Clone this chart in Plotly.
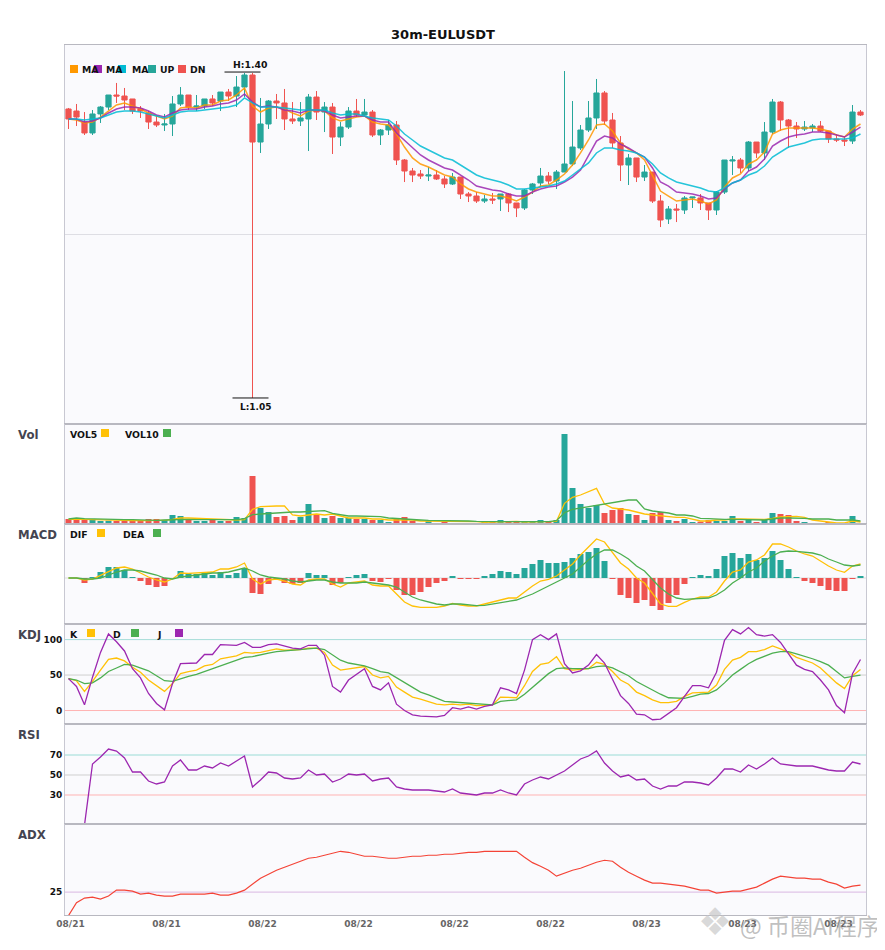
import plotly.graph_objects as go
from plotly.subplots import make_subplots

tick_idx = [0, 12, 24, 36, 48, 60, 72, 84, 96]
tick_labels = ["08/21", "08/21", "08/22", "08/22", "08/22", "08/22", "08/23", "08/23", "08/23"]

opens = [1.3611,1.3589,1.3470,1.3352,1.3557,1.3632,1.3762,1.3751,1.3719,1.3611,1.3568,1.3470,1.3438,1.3449,1.3665,1.3762,1.3632,1.3643,1.3719,1.3697,
         1.3794,1.3751,1.3848,1.3978,1.3254,1.3449,1.3697,1.3676,1.3503,1.3481,1.3503,1.3740,1.3578,1.3632,1.3308,1.3416,1.3589,1.3546,1.3578,1.3330,
         1.3384,1.3438,1.3060,1.2941,1.2909,1.2887,1.2898,1.2855,1.2801,1.2876,1.2693,1.2671,1.2617,1.2639,1.2639,1.2693,1.2596,1.2542,1.2736,1.2812,
         1.2887,1.2833,1.2930,1.3017,1.3190,1.3384,1.3514,1.3784,1.3492,1.3244,1.3006,1.3082,1.2876,1.2930,1.2617,1.2423,1.2531,1.2520,1.2650,1.2650,
         1.2596,1.2520,1.2714,1.3049,1.3060,1.2974,1.3254,1.3136,1.3362,1.3686,1.3492,1.3427,1.3395,1.3406,1.3427,1.3373,1.3287,1.3276,1.3265,1.3578]
highs = [1.3622,1.3665,1.3578,1.3600,1.3643,1.3762,1.3892,1.3838,1.3719,1.3643,1.3589,1.3546,1.3557,1.3751,1.3848,1.3762,1.3762,1.3719,1.3762,1.3794,
         1.3827,1.3967,1.4000,1.4000,1.3730,1.3708,1.3773,1.3827,1.3686,1.3686,1.3773,1.3805,1.3686,1.3676,1.3470,1.3632,1.3719,1.3719,1.3600,1.3395,
         1.3492,1.3481,1.3071,1.2974,1.2952,1.2984,1.2952,1.2887,1.2920,1.2876,1.2714,1.2714,1.2682,1.2704,1.2693,1.2704,1.2596,1.2747,1.2812,1.2974,
         1.2930,1.2952,1.4021,1.3697,1.3438,1.3697,1.3935,1.3805,1.3568,1.3319,1.3125,1.3082,1.3006,1.2930,1.2682,1.2563,1.2585,1.2671,1.2660,1.2693,
         1.2596,1.2725,1.3060,1.3103,1.3082,1.3265,1.3254,1.3470,1.3719,1.3697,1.3503,1.3470,1.3481,1.3449,1.3481,1.3373,1.3341,1.3319,1.3654,1.3600]
lows = [1.3395,1.3427,1.3330,1.3330,1.3460,1.3600,1.3676,1.3600,1.3557,1.3514,1.3395,1.3416,1.3373,1.3319,1.3643,1.3600,1.3589,1.3611,1.3643,1.3589,
        1.3697,1.3632,1.3740,1.0490,1.3136,1.3395,1.3503,1.3384,1.3449,1.3427,1.3157,1.3492,1.3362,1.3125,1.3211,1.3395,1.3524,1.3524,1.3308,1.3222,
        1.3330,1.3006,1.2822,1.2822,1.2855,1.2833,1.2844,1.2758,1.2790,1.2639,1.2606,1.2596,1.2596,1.2585,1.2509,1.2498,1.2444,1.2520,1.2693,1.2768,
        1.2801,1.2747,1.2930,1.2995,1.3168,1.3362,1.3395,1.3438,1.3190,1.2833,1.2790,1.2822,1.2833,1.2596,1.2336,1.2369,1.2390,1.2477,1.2542,1.2520,
        1.2412,1.2466,1.2693,1.2898,1.2920,1.2941,1.3082,1.3060,1.3341,1.3373,1.3190,1.3298,1.3373,1.3362,1.3362,1.3244,1.3254,1.3211,1.3233,1.3535]
closes = [1.3503,1.3524,1.3352,1.3557,1.3632,1.3762,1.3751,1.3708,1.3589,1.3589,1.3470,1.3438,1.3449,1.3665,1.3762,1.3632,1.3643,1.3719,1.3676,1.3794,
          1.3751,1.3848,1.3978,1.3254,1.3449,1.3697,1.3676,1.3503,1.3481,1.3514,1.3740,1.3578,1.3632,1.3308,1.3416,1.3589,1.3546,1.3578,1.3330,1.3384,
          1.3438,1.3060,1.2941,1.2898,1.2887,1.2898,1.2855,1.2801,1.2876,1.2693,1.2671,1.2617,1.2639,1.2628,1.2693,1.2596,1.2542,1.2736,1.2801,1.2887,
          1.2833,1.2930,1.3017,1.3200,1.3384,1.3514,1.3784,1.3481,1.3244,1.3006,1.3082,1.2876,1.2930,1.2617,1.2412,1.2531,1.2520,1.2650,1.2660,1.2596,
          1.2520,1.2714,1.3060,1.3060,1.2974,1.3254,1.3136,1.3362,1.3686,1.3492,1.3427,1.3395,1.3416,1.3427,1.3373,1.3287,1.3276,1.3265,1.3578,1.3546]

ma5 = [1.3503,1.3492,1.3460,1.3470,1.3524,1.3589,1.3654,1.3676,1.3643,1.3611,1.3568,1.3535,1.3503,1.3535,1.3622,1.3632,1.3622,1.3654,1.3654,1.3697,
       1.3708,1.3762,1.3838,1.3643,1.3578,1.3622,1.3632,1.3611,1.3568,1.3535,1.3589,1.3600,1.3589,1.3514,1.3481,1.3503,1.3524,1.3535,1.3470,1.3449,
       1.3438,1.3341,1.3200,1.3082,1.3017,1.2984,1.2941,1.2898,1.2876,1.2801,1.2747,1.2714,1.2693,1.2671,1.2671,1.2650,1.2617,1.2660,1.2714,1.2779,
       1.2790,1.2844,1.2909,1.3006,1.3136,1.3276,1.3438,1.3449,1.3373,1.3244,1.3179,1.3136,1.3060,1.2898,1.2725,1.2671,1.2617,1.2628,1.2639,1.2617,
       1.2585,1.2628,1.2768,1.2866,1.2909,1.3017,1.3060,1.3146,1.3341,1.3384,1.3406,1.3406,1.3406,1.3406,1.3395,1.3373,1.3330,1.3308,1.3395,1.3449]
ma10 = [1.3503,1.3503,1.3470,1.3481,1.3514,1.3568,1.3611,1.3632,1.3632,1.3622,1.3589,1.3546,1.3524,1.3568,1.3600,1.3611,1.3611,1.3632,1.3643,1.3665,
        1.3676,1.3708,1.3773,1.3686,1.3632,1.3643,1.3632,1.3600,1.3589,1.3568,1.3600,1.3600,1.3589,1.3546,1.3514,1.3524,1.3535,1.3535,1.3492,1.3470,
        1.3470,1.3352,1.3276,1.3190,1.3114,1.3060,1.3017,1.2974,1.2952,1.2898,1.2844,1.2779,1.2758,1.2736,1.2725,1.2693,1.2671,1.2671,1.2714,1.2747,
        1.2768,1.2779,1.2822,1.2876,1.2952,1.3114,1.3265,1.3319,1.3298,1.3233,1.3190,1.3136,1.3092,1.2974,1.2822,1.2779,1.2714,1.2704,1.2693,1.2671,
        1.2639,1.2650,1.2747,1.2812,1.2844,1.2941,1.2984,1.3071,1.3211,1.3265,1.3308,1.3330,1.3341,1.3362,1.3362,1.3352,1.3330,1.3308,1.3362,1.3416]
ma20 = [1.3503,1.3503,1.3492,1.3503,1.3514,1.3546,1.3578,1.3589,1.3589,1.3578,1.3557,1.3535,1.3514,1.3546,1.3578,1.3589,1.3589,1.3600,1.3611,1.3622,
        1.3632,1.3654,1.3730,1.3676,1.3632,1.3632,1.3632,1.3622,1.3611,1.3600,1.3600,1.3600,1.3600,1.3568,1.3546,1.3557,1.3557,1.3535,1.3514,1.3503,
        1.3492,1.3427,1.3341,1.3276,1.3211,1.3168,1.3125,1.3082,1.3060,1.3006,1.2952,1.2898,1.2866,1.2844,1.2822,1.2790,1.2747,1.2747,1.2758,1.2768,
        1.2779,1.2801,1.2833,1.2898,1.2963,1.3028,1.3136,1.3190,1.3190,1.3168,1.3157,1.3136,1.3092,1.3017,1.2920,1.2866,1.2822,1.2801,1.2779,1.2758,
        1.2725,1.2714,1.2758,1.2812,1.2844,1.2898,1.2930,1.2995,1.3092,1.3146,1.3200,1.3222,1.3244,1.3276,1.3287,1.3287,1.3287,1.3287,1.3298,1.3341]

volume = [15,15,14,14,9,10,9,9,9,9,15,15,12,27,24,15,9,9,15,9,
          9,21,18,144,48,36,21,24,12,21,60,27,18,24,18,18,15,15,12,12,
          6,18,21,9,3,9,3,6,3,3,3,3,6,9,12,5,5,6,6,12,
          4,12,270,108,60,48,57,33,42,48,30,27,12,33,36,12,9,15,6,7,
          12,9,9,24,9,12,6,15,33,30,27,9,6,3,3,5,3,2,24,2]
vol5 = [14,15,14,13,13,13,12,11,10,9,10,11,11,14,18,18,17,17,15,13,
        13,12,13,44,52,54,54,54,27,24,27,30,27,30,24,18,18,18,15,15,
        12,12,12,12,9,9,7,7,7,7,7,7,5,6,8,8,8,6,6,6,
        6,8,62,80,87,96,107,60,48,45,42,36,30,27,24,21,20,20,14,9,
        9,12,12,15,15,15,14,14,17,21,22,23,20,12,9,6,3,3,9,6]
vol10 = [15,18,16,15,14,14,13,13,13,12,11,11,12,13,14,14,13,13,13,13,
         13,13,16,28,30,32,34,36,36,36,38,40,40,32,27,24,24,24,24,22,
         18,16,14,13,12,11,11,10,9,9,9,8,7,7,7,7,7,7,7,7,
         7,10,34,44,48,54,57,60,66,69,72,72,45,39,36,33,27,27,24,17,
         16,14,14,14,14,12,12,12,15,18,18,18,17,15,15,15,12,12,12,9]

macd_hist = [0,0,-15,3,18,33,33,24,3,-9,-21,-27,-24,0,21,15,12,18,9,18,
             9,15,30,-45,-48,-18,-2,-15,-18,-15,15,9,9,-21,-15,3,9,12,-9,-12,
             -3,-36,-51,-51,-42,-27,-15,-9,6,-3,-3,-3,6,12,21,18,12,30,42,54,
             45,45,48,60,72,78,90,51,-3,-51,-60,-75,-66,-84,-96,-75,-51,-18,3,9,
             6,27,66,75,60,72,54,60,81,54,27,3,-9,-15,-24,-36,-39,-39,-3,6]
dif = [0,0,-6,-3,8,18,30,33,27,15,3,-6,-12,-3,15,14,15,18,18,27,
       27,33,45,-3,-18,-6,-3,-9,-18,-21,-6,-3,-3,-18,-27,-15,-12,-9,-21,-24,
       -24,-48,-72,-84,-88,-88,-88,-84,-76,-81,-84,-84,-78,-72,-64,-60,-60,-42,-24,-9,
       -4,6,24,42,69,94,117,108,78,45,27,0,-15,-48,-78,-85,-85,-73,-63,-57,
       -57,-42,-9,18,24,48,54,69,102,102,93,81,72,66,51,36,24,17,36,42]
dea = [0,0,-3,-3,0,9,18,24,24,21,15,9,0,-3,3,6,9,12,15,15,
       18,24,30,21,9,3,0,-3,-9,-12,-9,-6,-6,-12,-15,-15,-15,-12,-15,-18,
       -21,-27,-42,-57,-66,-72,-78,-81,-78,-78,-81,-83,-82,-78,-72,-69,-66,-57,-48,-36,
       -24,-12,0,12,33,54,72,84,84,72,57,36,21,-6,-30,-48,-60,-64,-63,-60,
       -60,-51,-36,-15,0,18,30,51,66,78,81,80,78,75,69,57,48,39,36,39]

kdj_k = [45,42,27,41,57,72,74,70,61,54,43,35,27,38,52,55,57,63,65,73,
         75,77,82,81,82,84,87,85,85,86,88,88,82,64,57,59,61,62,50,46,
         48,33,26,19,16,12,9,8,9,8,9,7,8,8,19,19,18,35,55,65,
         67,76,59,57,58,59,68,65,55,43,37,26,21,15,11,11,13,20,25,26,
         26,36,58,71,75,83,83,86,91,87,82,75,71,67,60,50,39,31,49,58]
kdj_d = [45,43,38,39,46,55,60,65,64,60,56,49,42,41,45,48,51,55,59,64,
         68,71,75,76,79,81,83,84,85,85,86,88,86,78,71,67,65,63,59,55,
         53,46,39,33,26,22,18,13,12,11,11,10,9,8,13,14,15,23,33,43,
         52,59,60,59,59,59,62,63,60,55,49,41,35,28,23,18,17,17,20,23,
         24,29,39,50,58,66,72,76,81,83,83,80,77,73,69,64,55,46,48,50]
kdj_j = [45,34,8,47,82,108,97,84,59,46,24,10,1,38,66,67,67,79,79,93,
         93,92,96,89,89,93,94,91,88,87,92,92,78,34,26,43,51,59,34,29,
         39,9,0,-6,-8,-9,-9,-7,4,2,5,2,6,8,32,29,24,57,100,107,
         100,108,66,53,56,64,79,67,45,21,10,-5,-6,-13,-12,-4,4,20,35,35,
         32,54,99,114,108,117,107,105,107,96,80,64,58,55,43,29,7,-3,52,72]

rsi = [0,0,0,61,68,76,74,67,53,53,44,41,43,59,65,55,55,59,57,62,
       59,64,69,38,45,53,52,47,46,47,55,50,51,43,46,51,50,51,44,46,
       47,38,36,35,35,35,34,33,36,32,31,30,32,32,35,32,30,41,45,48,
       46,50,54,60,66,69,74,62,54,48,50,45,46,39,36,39,39,43,43,42,
       40,47,56,56,53,60,56,61,67,61,60,59,59,59,57,55,54,54,63,61]

adx = [13.2,19.7,22,22.5,21.5,23,26,26,25.5,24,24.5,23.5,23,23,24,24,24,24,24.5,23.5,
       23.5,24.5,26,29,32,34,36,37.5,39,40.5,42,42.5,43.5,44.5,45.5,45,44,43,43,42.5,
       42,42,42.5,43,43,43.5,43.5,44,44,44.5,45,45,45.5,45.5,45.5,45.5,45.5,42.5,39.8,38,
       36,33,34.5,36,37,38.5,40,41,40.5,37.5,35,33,31,29.5,29.5,29,28.5,28,27,26,
       26,24.5,25,25.5,25.5,26.5,27.5,29.5,31.5,33,32.5,32,32,31.5,31.5,30,29,27,28,28.5]

UP = "#26a69a"
DN = "#ef5350"
ORANGE = "#ff9800"
PURPLE = "#9c27b0"
CYAN = "#00bcd4"
YELLOW = "#ffc107"
GREEN = "#4caf50"
FONT = "DejaVu Sans"

x = list(range(len(closes)))
hi_idx = 23
lo_idx = 23

# the page body keeps its 8px margin, so the figure is 8px smaller on each side
OFFSET = 8
L, R, T, B = 65, 866, 45, 915


def px(v):
    return (v - L) / (R - L)


def py(v):
    return (B - v) / (B - T)


fig = make_subplots(rows=6, cols=1, shared_xaxes=True, vertical_spacing=0,
                    row_heights=[379, 100, 100, 100, 100, 91])

fig.add_trace(go.Candlestick(x=x, open=opens, high=highs, low=lows, close=closes,
                             increasing=dict(line=dict(color=UP, width=1), fillcolor=UP),
                             decreasing=dict(line=dict(color=DN, width=1), fillcolor=DN)),
              row=1, col=1)
for vals, color in [(ma5, ORANGE), (ma10, PURPLE), (ma20, CYAN)]:
    fig.add_trace(go.Scatter(x=x, y=vals, mode="lines", opacity=0.85,
                             line=dict(color=color, width=1.5)), row=1, col=1)

vol_colors = [UP if c >= o else DN for o, c in zip(opens, closes)]
fig.add_trace(go.Bar(x=x, y=volume, width=0.75, marker=dict(color=vol_colors, line_width=0)),
              row=2, col=1)
fig.add_trace(go.Scatter(x=x, y=vol5, mode="lines", line=dict(color=YELLOW, width=1.3)), row=2, col=1)
fig.add_trace(go.Scatter(x=x, y=vol10, mode="lines", line=dict(color=GREEN, width=1.3)), row=2, col=1)

hist_colors = [UP if v >= 0 else DN for v in macd_hist]
fig.add_trace(go.Bar(x=x, y=macd_hist, width=0.75, marker=dict(color=hist_colors, line_width=0)),
              row=3, col=1)
fig.add_trace(go.Scatter(x=x, y=dif, mode="lines", line=dict(color=YELLOW, width=1.3)), row=3, col=1)
fig.add_trace(go.Scatter(x=x, y=dea, mode="lines", line=dict(color=GREEN, width=1.3)), row=3, col=1)

for vals, color in [(kdj_k, YELLOW), (kdj_d, GREEN), (kdj_j, PURPLE)]:
    fig.add_trace(go.Scatter(x=x, y=vals, mode="lines", line=dict(color=color, width=1.3)), row=4, col=1)

fig.add_trace(go.Scatter(x=x, y=rsi, mode="lines", line=dict(color=PURPLE, width=1.3)), row=5, col=1)
fig.add_trace(go.Scatter(x=x, y=adx, mode="lines", line=dict(color="#f44336", width=1.2)), row=6, col=1)

y_ranges = [[1.0209, 1.4302], [0, 300], [-138, 162], [-19, 122], [1, 101], [13.5, 59.2]]
y_ticks = [[], [], [], [0, 50, 100], [30, 50, 70], [25]]
for i in range(6):
    fig.update_yaxes(range=y_ranges[i], tickvals=y_ticks[i], ticks="", showgrid=False, zeroline=False,
                     showline=True, mirror=True, linecolor="#c8c8d2", linewidth=1,
                     tickfont=dict(family=FONT, size=9, color="#111", weight="bold"),
                     row=i + 1, col=1)
    # half a pixel shift keeps the 1px wicks on a pixel column
    fig.update_xaxes(range=[-0.4375, 99.6875], showgrid=False, zeroline=False, ticks="",
                     showline=True, mirror=True, linecolor="#b8b8c0", linewidth=1,
                     tickvals=[t + 0.25 for t in tick_idx], ticktext=tick_labels,
                     tickfont=dict(family=FONT, size=9, color="#666", weight="bold"),
                     row=i + 1, col=1)
fig.update_xaxes(rangeslider_visible=False, row=1, col=1)

# reference levels
levels = [(1, (y_ranges[0][0] + y_ranges[0][1]) / 2, "#dedee4"),
          (3, 0, "#dcdcdc"),
          (4, 100, "#a5dcd8"), (4, 50, "#cfcfcf"), (4, 0, "#ffb3b3"),
          (5, 70, "#9adcd6"), (5, 50, "#cfcfcf"), (5, 30, "#ffb3b3"),
          (6, 25, "#d9b8e2")]
for row, level, color in levels:
    fig.add_hline(y=level, line_color=color, line_width=1, layer="below", row=row, col=1)

# high / low markers on the big candle
fig.add_shape(type="line", x0=hi_idx - 3.5, x1=hi_idx + 1, y0=highs[hi_idx] + 0.001, y1=highs[hi_idx] + 0.001,
              line=dict(color="#111", width=1), row=1, col=1)
fig.add_shape(type="line", x0=lo_idx - 2.5, x1=lo_idx + 2, y0=lows[lo_idx], y1=lows[lo_idx],
              line=dict(color="#111", width=1), row=1, col=1)

annotations = []


def label(text, x_px, y_px, size=9.3, color="#111", anchor="left", family=FONT, bold=True):
    annotations.append(dict(text=text, xref="paper", yref="paper", x=px(x_px), y=py(y_px),
                            xanchor=anchor, yanchor="middle", showarrow=False,
                            font=dict(family=family, size=size, color=color,
                                      weight="bold" if bold else "normal")))


def swatch(x_px, y_px, color):
    fig.add_shape(type="rect", xref="paper", yref="paper", x0=px(x_px), x1=px(x_px + 8),
                  y0=py(y_px), y1=py(y_px + 8), fillcolor=color, line_width=0)


label(f"H:{highs[hi_idx]:.2f}", 231, 65, size=9.3)
label(f"L:{lows[lo_idx]:.2f}", 238, 407, size=9)

for swatch_x, color, text, text_x in [(70, ORANGE, "MA", 80), (94, PURPLE, "MA", 104), (118, CYAN, "MA", 130),
                                      (148, UP, "UP", 158), (178, DN, "DN", 188)]:
    swatch(swatch_x, 65, color)
    label(text, text_x, 69.5)

for swatch_x, swatch_y, color, text, text_x in [(101, 429, YELLOW, "VOL5", 68), (163, 429, GREEN, "VOL10", 123),
                                                (97, 529, YELLOW, "DIF", 68), (153, 529, GREEN, "DEA", 121),
                                                (87, 629, YELLOW, "K", 68), (131, 629, GREEN, "D", 111),
                                                (175, 629, PURPLE, "J", 155)]:
    swatch(swatch_x, swatch_y, color)
    label(text, text_x, swatch_y + 5)

for text, y_px in [("Vol", 435), ("MACD", 535), ("KDJ", 635), ("RSI", 735), ("ADX", 835)]:
    label(text, 15.5, y_px, size=11.7, color="#444450")

# watermark
label("❖", 696, 922, size=38, color="rgba(200,200,200,0.7)", bold=False)
label("@ 币圈AI程序", 738, 925, size=23, color="rgba(150,150,150,0.6)",
      family="Noto Sans CJK SC", bold=False)

fig.update_layout(
    width=885 - OFFSET, height=950 - OFFSET,
    margin=dict(l=L - OFFSET, r=885 - R, t=T - OFFSET, b=950 - B),
    title=dict(text="30m-EULUSDT", x=(443 - OFFSET) / (885 - OFFSET), xanchor="center",
               y=1 - (34 - OFFSET) / (950 - OFFSET), yanchor="middle",
               font=dict(family=FONT, size=13, color="#111", weight="bold")),
    paper_bgcolor="white", plot_bgcolor="#fafafd",
    showlegend=False, boxgap=0.35, boxgroupgap=0,
    annotations=annotations,
)

fig.write_html("out.html")
